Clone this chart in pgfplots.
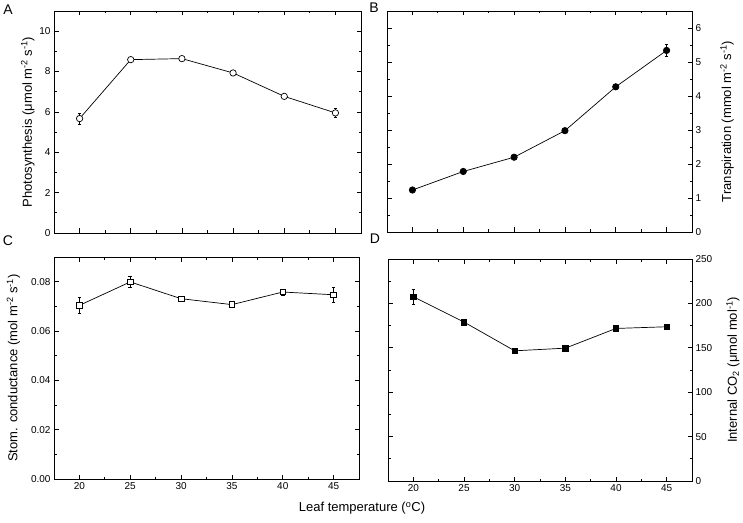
\documentclass[border=0pt]{standalone}
\usepackage{fontspec}
\setmainfont{Liberation Sans}
\usepackage{pgfplots}
\pgfplotsset{compat=1.18}
\begin{document}
\begin{tikzpicture}[x=1pt,y=1pt]
\useasboundingbox (0,0) rectangle (743,522);
\pgfplotsset{
  every axis/.style={
    scale only axis,
    anchor=south west,
    axis line style={line width=0.8pt},
    tick align=inside,
    major tick length=4.5pt,
    minor tick length=2.5pt,
    every tick/.style={black,line width=0.7pt},
    xmin=17.5, xmax=47.5,
    xtick={20,25,...,45},
    minor x tick num=1,
    minor y tick num=1,
    tick label style={font=\fontsize{10}{12}\selectfont},
    label style={font=\fontsize{13}{15}\selectfont},
    /pgf/number format/assume math mode=true,
    clip=false,
  },
  myline/.style={black, line width=0.7pt, mark size=3.2pt,
    error bars/y dir=both, error bars/y explicit,
    error bars/error bar style={line width=0.8pt},
    error bars/error mark options={rotate=90, mark size=1.8pt, line width=0.8pt}},
}
% Panel A
\begin{axis}[at={(54pt,289pt)}, width=307pt, height=222pt,
  ymin=0, ymax=11, ytick={0,2,...,10},
  xticklabels={},
  ylabel={Photosynthesis (μmol m\textsuperscript{-2} s\textsuperscript{-1})},
  ylabel style={yshift=-2pt}]
\addplot[myline, mark=*, mark options={fill=white}] coordinates {
 (20,5.67) +- (0,0.28)
 (25,8.59) +- (0,0.06)
 (30,8.64) +- (0,0.06)
 (35,7.93) +- (0,0.07)
 (40,6.77) +- (0,0.07)
 (45,5.95) +- (0,0.2)
};
\end{axis}
% Panel B
\begin{axis}[at={(387pt,290pt)}, width=305pt, height=221pt,
  ymin=0, ymax=6.5, ytick={0,1,...,6},
  xticklabels={},
  yticklabel pos=right,
  ylabel={Transpiration (mmol m\textsuperscript{-2} s\textsuperscript{-1})},
  ylabel style={at={([xshift=35pt]axis description cs:1,0.5)}, anchor=center}]
\addplot[myline, mark=*, mark options={fill=black}] coordinates {
 (20,1.235) +- (0,0.04)
 (25,1.78) +- (0,0.04)
 (30,2.2) +- (0,0.04)
 (35,2.98) +- (0,0.05)
 (40,4.27) +- (0,0.05)
 (45,5.34) +- (0,0.18)
};
\end{axis}
% Panel C
\begin{axis}[at={(54pt,43pt)}, width=305pt, height=222pt,
  ymin=0, ymax=0.09, ytick={0,0.02,...,0.081},
  yticklabel style={/pgf/number format/.cd, fixed, fixed zerofill, precision=2},
  scaled y ticks=false,
  ylabel={Stom. conductance (mol m\textsuperscript{-2} s\textsuperscript{-1})},
  ylabel style={yshift=4pt}]
\addplot[myline, mark=square*, mark size=2.8pt, mark options={fill=white}] coordinates {
 (20,0.0704) +- (0,0.0034)
 (25,0.0799) +- (0,0.0023)
 (30,0.0731) +- (0,0.0006)
 (35,0.0707) +- (0,0.0008)
 (40,0.0758) +- (0,0.0012)
 (45,0.0747) +- (0,0.003)
};
\end{axis}
% Panel D
\begin{axis}[at={(388pt,41pt)}, width=304pt, height=222pt,
  ymin=0, ymax=250, ytick={0,50,...,250},
  yticklabel pos=right,
  ylabel={Internal CO\textsubscript{2} (μmol mol\textsuperscript{-1})},
  ylabel style={at={([xshift=41pt]axis description cs:1,0.5)}, anchor=center}]
\addplot[myline, mark=square*, mark size=2.8pt, mark options={fill=black}] coordinates {
 (20,207.5) +- (0,8.6)
 (25,179) +- (0,2)
 (30,146.6) +- (0,2)
 (35,149.6) +- (0,2)
 (40,171.8) +- (0,2)
 (45,173.7) +- (0,2)
};
\end{axis}
\node[font=\fontsize{14}{16}\selectfont] at (8,512) {A};
\node[font=\fontsize{14}{16}\selectfont] at (374,514) {B};
\node[font=\fontsize{14}{16}\selectfont] at (8,281) {C};
\node[font=\fontsize{14}{16}\selectfont] at (375,283) {D};
\node[font=\fontsize{13}{15}\selectfont] at (362,14) {Leaf temperature (\textsuperscript{o}C)};
\end{tikzpicture}
\end{document}
